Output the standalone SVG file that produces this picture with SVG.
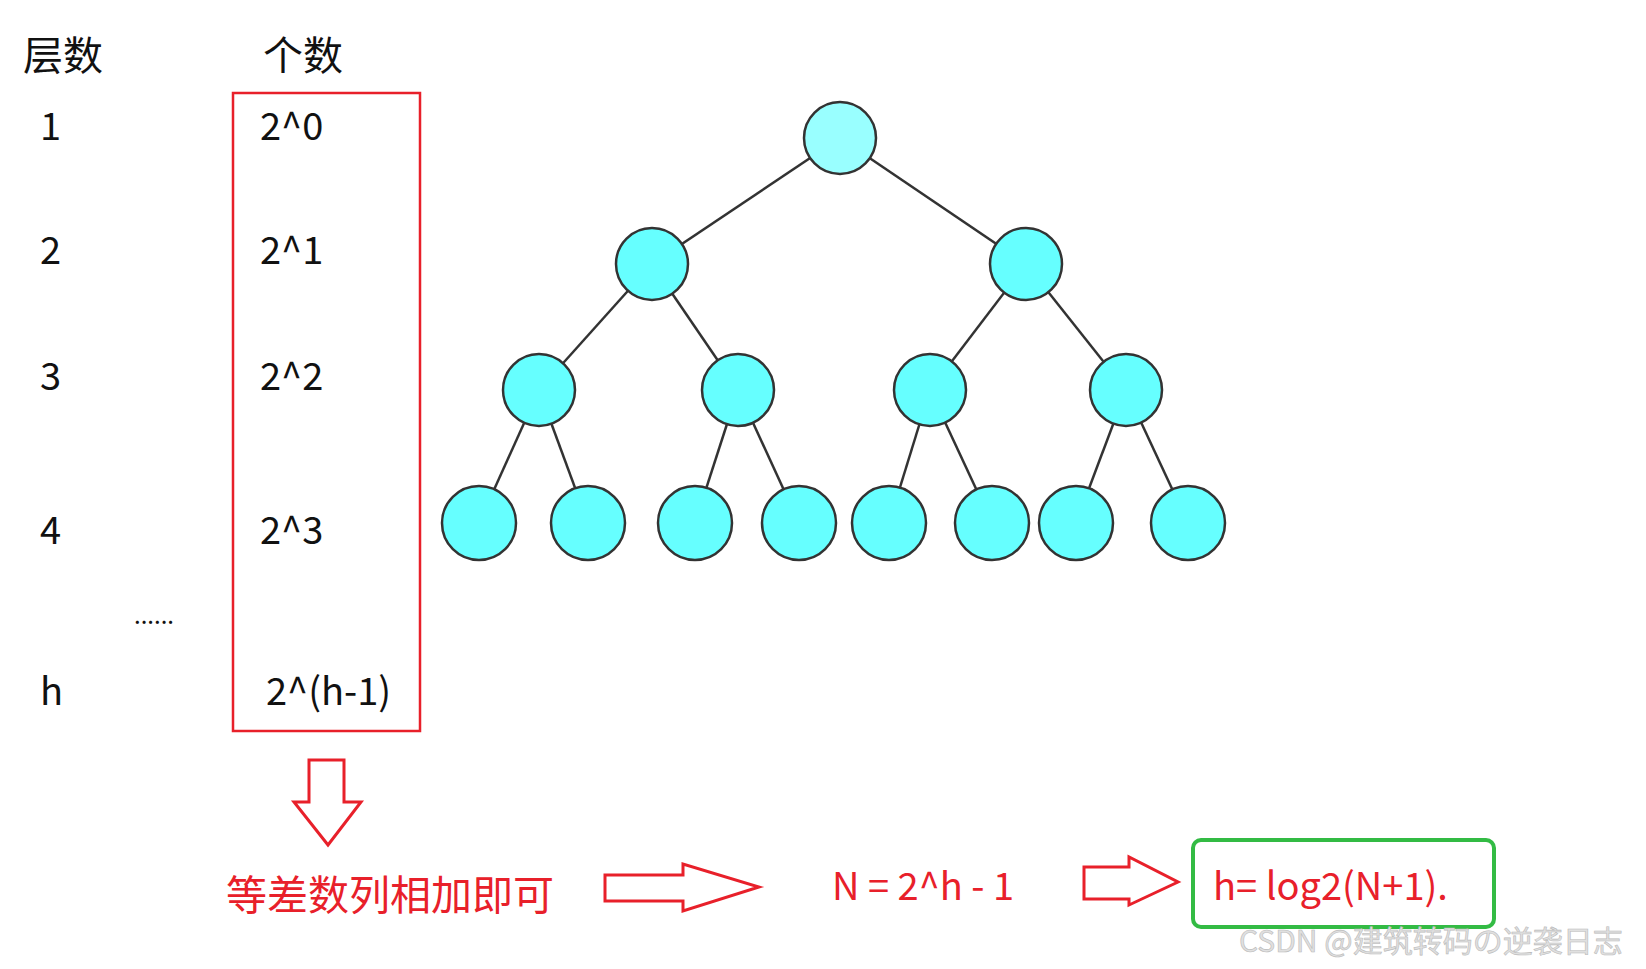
<svg xmlns="http://www.w3.org/2000/svg" width="1646" height="969" viewBox="0 0 1646 969">
<style>
text{font-family:"Noto Sans CJK SC","Noto Sans",sans-serif}
.k{font-size:38px;fill:#111}
.r{font-size:38px;fill:#e8202a}
.n{fill:#66ffff;stroke:#333;stroke-width:2.5}
.e{stroke:#333;stroke-width:2.5}
.a{fill:#fff;stroke:#e8202a;stroke-width:3}
</style>
<rect width="1646" height="969" fill="#fff"/>
<g id="labels">
<text x="23" y="70" class="k" style="font-size:40px">层数</text>
<text x="263" y="70" class="k" style="font-size:40px">个数</text>
<text x="40" y="140" class="k">1</text>
<text x="40" y="264" class="k">2</text>
<text x="40" y="390" class="k">3</text>
<text x="40" y="544" class="k">4</text>
<text x="134" y="624" class="k" style="font-size:24px">......</text>
<text x="40" y="705" class="k">h</text>
</g>
<g id="counts">
<rect x="233" y="93" width="187" height="638" fill="none" stroke="#e8202a" stroke-width="2.5"/>
<text x="260" y="140" class="k">2^0</text>
<text x="260" y="264" class="k">2^1</text>
<text x="260" y="390" class="k">2^2</text>
<text x="260" y="544" class="k">2^3</text>
<text x="266" y="705" class="k">2^(h-1)</text>
</g>
<g id="connectors">
<line class="e" x1="840" y1="138" x2="652" y2="264"/>
<line class="e" x1="840" y1="138" x2="1026" y2="264"/>
<line class="e" x1="652" y1="264" x2="539" y2="390"/>
<line class="e" x1="652" y1="264" x2="738" y2="390"/>
<line class="e" x1="1026" y1="264" x2="930" y2="390"/>
<line class="e" x1="1026" y1="264" x2="1126" y2="390"/>
<line class="e" x1="539" y1="390" x2="479" y2="523"/>
<line class="e" x1="539" y1="390" x2="588" y2="523"/>
<line class="e" x1="738" y1="390" x2="695" y2="523"/>
<line class="e" x1="738" y1="390" x2="799" y2="523"/>
<line class="e" x1="930" y1="390" x2="889" y2="523"/>
<line class="e" x1="930" y1="390" x2="992" y2="523"/>
<line class="e" x1="1126" y1="390" x2="1076" y2="523"/>
<line class="e" x1="1126" y1="390" x2="1188" y2="523"/>
</g>
<g id="tree">
<circle class="n" cx="840" cy="138" r="36" fill="#99ffff" style="fill:#99ffff"/>
<circle class="n" cx="652" cy="264" r="36"/>
<circle class="n" cx="1026" cy="264" r="36"/>
<circle class="n" cx="539" cy="390" r="36"/>
<circle class="n" cx="738" cy="390" r="36"/>
<circle class="n" cx="930" cy="390" r="36"/>
<circle class="n" cx="1126" cy="390" r="36"/>
<circle class="n" cx="479" cy="523" r="37"/>
<circle class="n" cx="588" cy="523" r="37"/>
<circle class="n" cx="695" cy="523" r="37"/>
<circle class="n" cx="799" cy="523" r="37"/>
<circle class="n" cx="889" cy="523" r="37"/>
<circle class="n" cx="992" cy="523" r="37"/>
<circle class="n" cx="1076" cy="523" r="37"/>
<circle class="n" cx="1188" cy="523" r="37"/>
</g>
<g id="flow">
<polygon class="a" points="309,760 344,760 344,802 361,802 328,845 294,802 309,802"/>
<text x="226" y="910" class="r" style="font-size:41px">等差数列相加即可</text>
<polygon class="a" points="605,875 683,875 683,864 759,887 683,911 683,901 605,901"/>
<text x="832" y="900" class="r">N = 2^h - 1</text>
<polygon class="a" points="1084,867 1129,867 1129,857 1178,882 1129,905 1129,899 1084,899"/>
<rect x="1193" y="840" width="301" height="87" rx="8" fill="none" stroke="#33bb44" stroke-width="4"/>
<text x="1213" y="900" class="r">h= log2(N+1).</text>
</g>
<text x="1239" y="952" style="font-size:30px;fill:#e0e0e0;stroke:#bbb;stroke-width:0.6">CSDN @建筑转码の逆袭日志</text>
</svg>
